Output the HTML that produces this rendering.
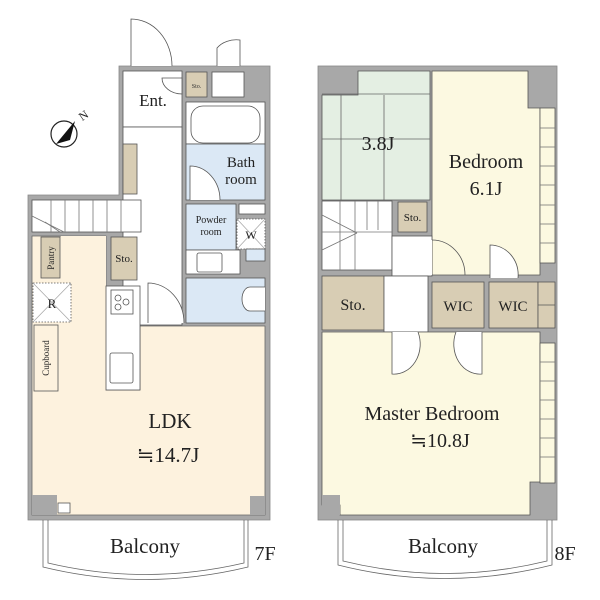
<!DOCTYPE html>
<html><head><meta charset="utf-8"><style>body{margin:0;background:#fff}svg{display:block}</style></head>
<body>
<svg width="600" height="600" viewBox="0 0 600 600" xmlns="http://www.w3.org/2000/svg" font-family="'Liberation Serif', serif" fill="none" stroke="#555" stroke-width="0.8">
<!-- ============ 7F ============ -->
<!-- walls -->
<path d="M119 66 H270 V520 H28 V195 H119 Z" fill="#a8a8a8" stroke="#888"/>
<!-- LDK cream -->
<path d="M32 236 H106 V390 H140 V326 H265 V515 H32 Z" fill="#fdf2de" stroke="#666"/>
<rect x="61" y="236" width="45" height="154" fill="#fdf2de" stroke="none"/>
<!-- entrance -->
<rect x="123" y="71" width="59" height="56" fill="#fff"/>
<rect x="186" y="72" width="21" height="25" fill="#d8cdb4"/>
<text x="196.5" y="88" font-size="6" fill="#333" stroke="none" text-anchor="middle">Sto.</text>
<rect x="212" y="72" width="32" height="25" fill="#fff"/>
<rect x="248" y="72" width="17" height="25" fill="#a8a8a8" stroke="none"/>
<path d="M131 66 V19 A41 47 0 0 1 172 66" fill="#fff"/>
<path d="M217 66 V48 A23 18 0 0 1 240 40 V66" fill="#fff"/>
<path d="M162 78 A20 16 0 0 0 182 94 V78 Z" fill="#fff"/>
<text x="153" y="106" font-size="17" fill="#222" stroke="none" text-anchor="middle">Ent.</text>
<!-- corridor -->
<rect x="123" y="127" width="59" height="198" fill="#fff"/>
<rect x="123" y="144" width="14" height="50" fill="#d8cdb4"/>
<!-- stairs -->
<rect x="32" y="200" width="109" height="32" fill="#fff"/>
<g stroke="#777">
<line x1="51" y1="200" x2="51" y2="232"/><line x1="65" y1="200" x2="65" y2="232"/><line x1="79" y1="200" x2="79" y2="232"/><line x1="93" y1="200" x2="93" y2="232"/><line x1="107" y1="200" x2="107" y2="232"/><line x1="121" y1="200" x2="121" y2="232"/><line x1="32" y1="216" x2="64" y2="232"/><line x1="45" y1="222" x2="60" y2="232"/>
</g>
<!-- bath -->
<rect x="186" y="102" width="79" height="42" fill="#fff"/>
<rect x="191" y="106" width="69" height="37" rx="12" fill="#fff"/>
<rect x="186" y="144" width="79" height="56" fill="#dbe8f5"/>
<path d="M190 200 V166 A30 34 0 0 1 220 200" fill="#fff"/>
<text x="241" y="167" font-size="15" fill="#222" stroke="none" text-anchor="middle">Bath</text>
<text x="241" y="184" font-size="15" fill="#222" stroke="none" text-anchor="middle">room</text>
<rect x="186" y="204" width="50" height="46" fill="#dbe8f5"/>
<text x="211" y="223" font-size="10" fill="#222" stroke="none" text-anchor="middle">Powder</text>
<text x="211" y="235" font-size="10" fill="#222" stroke="none" text-anchor="middle">room</text>
<rect x="239" y="204" width="26" height="10" fill="#fff"/>
<rect x="237" y="219" width="28" height="30" fill="#fff" stroke-dasharray="1.5 1.5"/>
<path d="M237 219 L265 249 M265 219 L237 249" stroke="#aaa"/>
<text x="251" y="239" font-size="12" fill="#222" stroke="none" text-anchor="middle">W</text>
<rect x="246" y="249" width="19" height="12" fill="#dbe8f5"/>
<rect x="186" y="250" width="54" height="24" fill="#fff"/>
<rect x="197" y="253" width="25" height="19" rx="2" fill="#fff"/>
<rect x="186" y="278" width="79" height="45" fill="#dbe8f5"/>
<path d="M265 287 H250 A8 12 0 0 0 250 311 H265" fill="#fff"/>
<path d="M148 323 V283 A36 40 0 0 1 184 323" fill="#fff"/>
<!-- closet / stove -->
<rect x="111" y="237" width="26" height="43" fill="#d8cdb4"/>
<text x="124" y="262" font-size="11" fill="#222" stroke="none" text-anchor="middle">Sto.</text>
<rect x="106" y="286" width="34" height="104" fill="#fff"/>
<rect x="111" y="290" width="22" height="24" fill="#fff"/>
<circle cx="118" cy="298" r="3"/><circle cx="126" cy="302" r="3"/><circle cx="118" cy="307" r="3"/>
<rect x="110" y="353" width="23" height="30" rx="2" fill="#fff"/>
<!-- left column -->
<rect x="41" y="237" width="19" height="41" fill="#d8cdb4"/>
<text transform="translate(54 258) rotate(-90)" font-size="9" fill="#222" stroke="none" text-anchor="middle">Pantry</text>
<rect x="33" y="283" width="38" height="39" fill="#fff" stroke-dasharray="1.5 1.5"/>
<path d="M33 283 L71 322 M71 283 L33 322" stroke="#aaa"/>
<text x="52" y="308" font-size="13" fill="#222" stroke="none" text-anchor="middle">R</text>
<rect x="34" y="325" width="24" height="66" fill="#fdf2de"/>
<text transform="translate(49 358) rotate(-90)" font-size="9" fill="#222" stroke="none" text-anchor="middle">Cupboard</text>
<rect x="32" y="495" width="25" height="20" fill="#a8a8a8" stroke="none"/>
<rect x="58" y="503" width="12" height="10" fill="#fff"/>
<rect x="250" y="496" width="15" height="19" fill="#a8a8a8" stroke="none"/>
<text x="170" y="428" font-size="21" fill="#222" stroke="none" text-anchor="middle">LDK</text>
<text x="168" y="462" font-size="21" fill="#222" stroke="none" text-anchor="middle">≒14.7J</text>
<!-- balcony -->
<path d="M43 520 V567 Q145 592 248 567 V520" stroke="#666"/>
<path d="M48 520 V563 Q145 586 244 563 V520" stroke="#666"/>
<text x="145" y="553" font-size="21" fill="#222" stroke="none" text-anchor="middle">Balcony</text>
<text x="265" y="560" font-size="20" fill="#222" stroke="none" text-anchor="middle">7F</text>
<!-- compass -->
<circle cx="64" cy="134" r="13" fill="#fff" stroke="#222" stroke-width="1.2"/>
<path d="M75 121 L56 144 L70 140 Z" fill="#111" stroke="none"/>
<text x="80" y="122" font-size="12" fill="#222" stroke="none" transform="rotate(-35 80 118)">N</text>

<!-- ============ 8F ============ -->
<rect x="318" y="66" width="239" height="454" fill="#a8a8a8" stroke="#888"/>
<!-- tatami -->
<path d="M358 71 H430 V200 H322 V95 H358 Z" fill="#e4efe3"/>
<g stroke="#666"><line x1="322" y1="94" x2="430" y2="94"/><line x1="341" y1="95" x2="341" y2="200"/><line x1="384" y1="95" x2="384" y2="200"/><line x1="322" y1="139" x2="430" y2="139"/></g>
<text x="378" y="150" font-size="20" fill="#222" stroke="none" text-anchor="middle">3.8J</text>
<!-- bedroom -->
<path d="M432 71 H528 V108 H540 V275 H432 Z" fill="#fcf9e1"/>
<rect x="540" y="108" width="15" height="155" fill="#fcf9e1"/>
<g stroke="#777"><line x1="540" y1="128" x2="555" y2="128"/><line x1="540" y1="147" x2="555" y2="147"/><line x1="540" y1="166" x2="555" y2="166"/><line x1="540" y1="185" x2="555" y2="185"/><line x1="540" y1="205" x2="555" y2="205"/><line x1="540" y1="224" x2="555" y2="224"/><line x1="540" y1="243" x2="555" y2="243"/></g>
<text x="486" y="168" font-size="20" fill="#222" stroke="none" text-anchor="middle">Bedroom</text>
<text x="486" y="195" font-size="20" fill="#222" stroke="none" text-anchor="middle">6.1J</text>
<path d="M490 278 V245 A28 30 0 0 1 518 278" fill="#fff"/>
<!-- stairs -->
<rect x="322" y="201" width="70" height="69" fill="#fff"/>
<g stroke="#777"><line x1="340" y1="201" x2="340" y2="270"/><line x1="355" y1="201" x2="355" y2="270"/><line x1="367" y1="201" x2="367" y2="230"/><line x1="378" y1="201" x2="378" y2="230"/><line x1="322" y1="232" x2="392" y2="232"/><line x1="322" y1="215" x2="357" y2="233"/><line x1="322" y1="250" x2="357" y2="233"/></g>
<rect x="392" y="236" width="40" height="40" fill="#fff"/>
<path d="M432 240 V275 H399 A33 35 0 0 1 432 240" fill="#fff" stroke="none"/>
<path d="M432 240 A33 35 0 0 1 465 275" />
<rect x="398" y="202" width="29" height="30" fill="#d8cdb4"/>
<text x="412.5" y="221" font-size="11" fill="#222" stroke="none" text-anchor="middle">Sto.</text>
<!-- storage row -->
<rect x="322" y="276" width="62" height="54" fill="#d8cdb4"/>
<text x="353" y="310" font-size="16" fill="#222" stroke="none" text-anchor="middle">Sto.</text>
<rect x="384" y="276" width="44" height="56" fill="#fff"/>
<rect x="432" y="282" width="52" height="46" fill="#d8cdb4"/>
<text x="458" y="311" font-size="15" fill="#222" stroke="none" text-anchor="middle">WIC</text>
<rect x="489" y="282" width="49" height="46" fill="#d8cdb4"/>
<text x="513" y="311" font-size="15" fill="#222" stroke="none" text-anchor="middle">WIC</text>
<rect x="538" y="282" width="17" height="46" fill="#d8cdb4"/>
<line x1="538" y1="305" x2="555" y2="305"/>
<!-- master -->
<path d="M322 332 H540 V482 H530 V515 H340 V505 H322 Z" fill="#fcf9e1"/>
<rect x="322" y="495" width="18" height="20" fill="#a8a8a8" stroke="none"/>
<rect x="540" y="343" width="15" height="140" fill="#fcf9e1"/>
<g stroke="#777"><line x1="540" y1="362" x2="555" y2="362"/><line x1="540" y1="381" x2="555" y2="381"/><line x1="540" y1="400" x2="555" y2="400"/><line x1="540" y1="419" x2="555" y2="419"/><line x1="540" y1="438" x2="555" y2="438"/><line x1="540" y1="457" x2="555" y2="457"/></g>
<path d="M392 332 V374 A26 30 0 0 0 418 332" fill="#fff"/>
<path d="M482 332 V374 A26 30 0 0 1 456 332" fill="#fff"/>
<text x="432" y="420" font-size="20" fill="#222" stroke="none" text-anchor="middle">Master Bedroom</text>
<text x="440" y="447" font-size="20" fill="#222" stroke="none" text-anchor="middle">≒10.8J</text>
<!-- balcony -->
<path d="M338 520 V565 Q445 592 552 565 V520" stroke="#666"/>
<path d="M343 520 V561 Q445 586 547 561 V520" stroke="#666"/>
<text x="443" y="553" font-size="21" fill="#222" stroke="none" text-anchor="middle">Balcony</text>
<text x="565" y="560" font-size="20" fill="#222" stroke="none" text-anchor="middle">8F</text>
</svg>
</body></html>
